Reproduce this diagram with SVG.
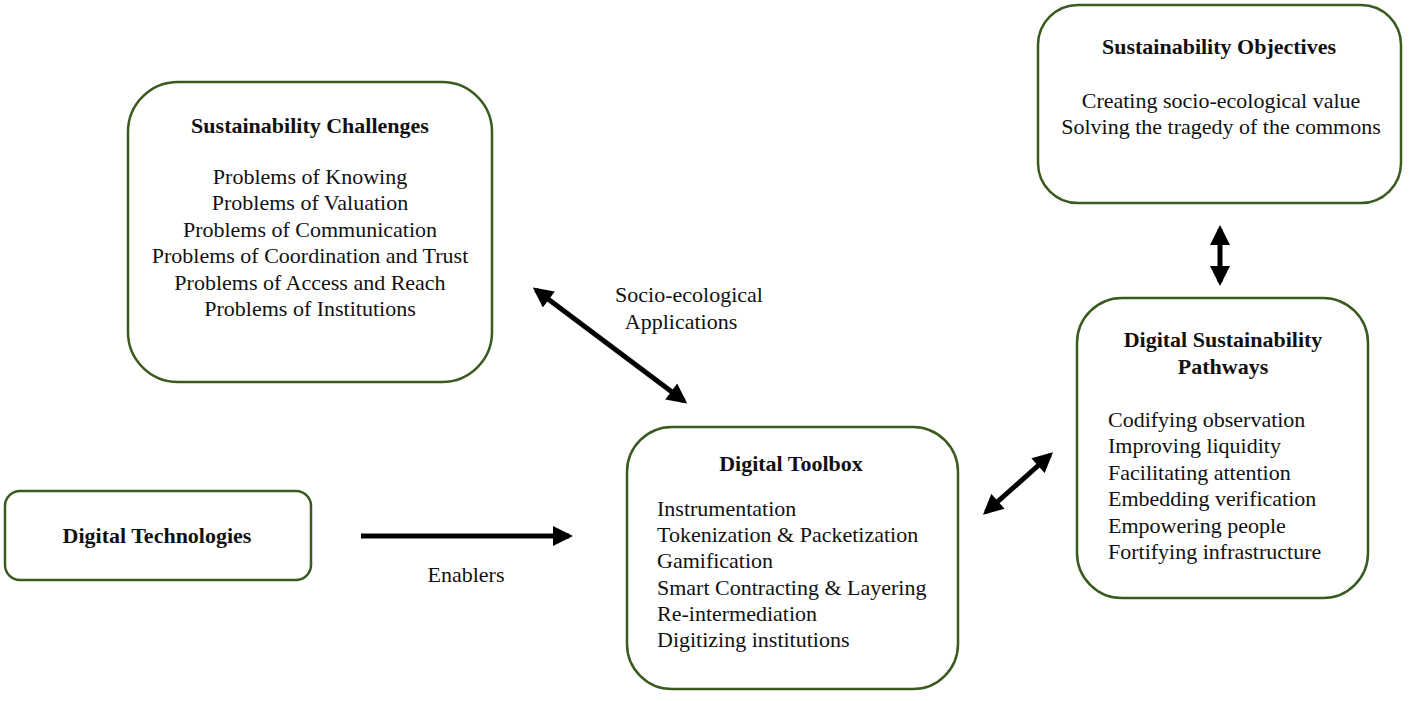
<svg xmlns="http://www.w3.org/2000/svg" width="1417" height="701" viewBox="0 0 1417 701">
<defs>
<style>
.box{fill:#fff;stroke:#3a5a20;stroke-width:2.5}
text{font-family:"Liberation Serif","Times New Roman",serif;font-size:22px;fill:#111}
.b{font-weight:bold;font-size:22px}
.c{text-anchor:middle}
.ar{stroke:#000;stroke-width:5;fill:none}
</style>
<marker id="ah" viewBox="0 0 10 10" refX="8" refY="5" markerWidth="4.4" markerHeight="4" orient="auto-start-reverse" markerUnits="strokeWidth">
<path d="M0,0 L10,5 L0,10 Z" fill="#000"/>
</marker>
</defs>
<rect width="1417" height="701" fill="#fff"/>
<g id="challenges">
<rect class="box" x="128" y="82" width="364" height="300" rx="50"/>
<text class="b c" x="310" y="133">Sustainability Challenges</text>
<text class="c" x="310" y="184">Problems of Knowing</text>
<text class="c" x="310" y="210">Problems of Valuation</text>
<text class="c" x="310" y="237">Problems of Communication</text>
<text class="c" x="310" y="263">Problems of Coordination and Trust</text>
<text class="c" x="310" y="290">Problems of Access and Reach</text>
<text class="c" x="310" y="316">Problems of Institutions</text>
</g>
<g id="technologies">
<rect class="box" x="5" y="491" width="306" height="89" rx="15"/>
<text class="b c" x="157" y="543">Digital Technologies</text>
</g>
<g id="toolbox">
<rect class="box" x="627" y="427" width="331" height="262" rx="45"/>
<text class="b c" x="791" y="471">Digital Toolbox</text>
<text x="657" y="516">Instrumentation</text>
<text x="657" y="542">Tokenization &amp; Packetization</text>
<text x="657" y="568">Gamification</text>
<text x="657" y="595">Smart Contracting &amp; Layering</text>
<text x="657" y="621">Re-intermediation</text>
<text x="657" y="647">Digitizing  institutions</text>
</g>
<g id="pathways">
<rect class="box" x="1077" y="298" width="291" height="300" rx="45"/>
<text class="b c" x="1223" y="347">Digital Sustainability</text>
<text class="b c" x="1223" y="374">Pathways</text>
<text x="1108" y="427">Codifying observation</text>
<text x="1108" y="453">Improving liquidity</text>
<text x="1108" y="480">Facilitating  attention</text>
<text x="1108" y="506">Embedding verification</text>
<text x="1108" y="533">Empowering people</text>
<text x="1108" y="559">Fortifying infrastructure</text>
</g>
<g id="objectives">
<rect class="box" x="1038" y="5" width="363" height="198" rx="40"/>
<text class="b c" x="1219" y="54">Sustainability Objectives</text>
<text class="c" x="1221" y="108">Creating socio-ecological  value</text>
<text class="c" x="1221" y="134">Solving the tragedy of the commons</text>
</g>
<g id="connectors">
<line class="ar" x1="536" y1="290" x2="684" y2="401" marker-start="url(#ah)" marker-end="url(#ah)"/>
<line class="ar" x1="361" y1="536" x2="569" y2="536" marker-end="url(#ah)"/>
<line class="ar" x1="986" y1="512" x2="1050" y2="455" marker-start="url(#ah)" marker-end="url(#ah)"/>
<line class="ar" x1="1220" y1="229" x2="1220" y2="282" marker-start="url(#ah)" marker-end="url(#ah)"/>
<text class="c" x="689" y="302">Socio-ecological</text>
<text class="c" x="681" y="329">Applications</text>
<text class="c" x="466" y="582">Enablers</text>
</g>
</svg>
